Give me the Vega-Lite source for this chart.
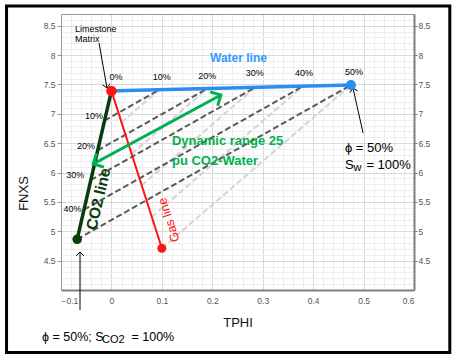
{
  "$schema": "https://vega.github.io/schema/vega-lite/v6.json",
  "width": 353,
  "height": 276,
  "autosize": {"type": "none"},
  "padding": {"left": 61, "top": 14, "right": 43, "bottom": 68},
  "background": "white",
  "config": {"view": {"stroke": null}, "font": "Liberation Sans", "axis": {"labelFont": "Liberation Sans", "titleFont": "Liberation Sans"}},
  "resolve": {"axis": {"x": "independent", "y": "independent"}, "scale": {"color": "independent", "shape": "independent", "size": "independent"}},
  "encoding": {
    "x": {"field": "x", "type": "quantitative", "scale": {"domain": [-0.1, 0.6], "nice": false, "zero": false}, "axis": null},
    "y": {"field": "y", "type": "quantitative", "scale": {"domain": [4, 8.7], "nice": false, "zero": false}, "axis": null}
  },
  "layer": [
    {
      "data": {"values": [
        {"x": 0.02, "y": 6.854, "x2": 0.095, "y2": 7.41},
        {"x": 0.04, "y": 6.318, "x2": 0.19, "y2": 7.43},
        {"x": 0.06, "y": 5.782, "x2": 0.285, "y2": 7.45},
        {"x": 0.08, "y": 5.246, "x2": 0.38, "y2": 7.47},
        {"x": 0.1, "y": 4.71, "x2": 0.475, "y2": 7.49}
      ]},
      "mark": {"type": "rule", "stroke": "#d4d4d4", "strokeWidth": 2, "strokeDash": [6, 3]},
      "encoding": {
        "x": {"field": "x", "type": "quantitative", "scale": {"domain": [-0.1, 0.6], "nice": false, "zero": false},
          "axis": {"orient": "top", "values": [-0.1,-0.08,-0.06,-0.04,-0.02,0,0.02,0.04,0.06,0.08,0.1,0.12,0.14,0.16,0.18,0.2,0.22,0.24,0.26,0.28,0.3,0.32,0.34,0.36,0.38,0.4,0.42,0.44,0.46,0.48,0.5,0.52,0.54,0.56,0.58,0.6],
            "grid": true, "gridColor": "#eeeeee", "gridWidth": 1, "labels": false, "ticks": false, "domain": true, "domainColor": "#9a9a9a", "domainWidth": 1, "title": null}},
        "y": {"field": "y", "type": "quantitative", "scale": {"domain": [4, 8.7], "nice": false, "zero": false},
          "axis": {"orient": "left", "values": [4,4.1,4.2,4.3,4.4,4.5,4.6,4.7,4.8,4.9,5,5.1,5.2,5.3,5.4,5.5,5.6,5.7,5.8,5.9,6,6.1,6.2,6.3,6.4,6.5,6.6,6.7,6.8,6.9,7,7.1,7.2,7.3,7.4,7.5,7.6,7.7,7.8,7.9,8,8.1,8.2,8.3,8.4,8.5,8.6,8.7],
            "grid": true, "gridColor": "#eeeeee", "gridWidth": 1, "labels": false, "ticks": false, "domain": false, "title": null}},
        "x2": {"field": "x2"},
        "y2": {"field": "y2"}
      }
    },
    {
      "data": {"values": [
        {"x": -0.0136, "y": 6.885, "x2": 0.095, "y2": 7.41},
        {"x": -0.0272, "y": 6.379, "x2": 0.19, "y2": 7.43},
        {"x": -0.0408, "y": 5.874, "x2": 0.285, "y2": 7.45},
        {"x": -0.0544, "y": 5.368, "x2": 0.38, "y2": 7.47},
        {"x": -0.068, "y": 4.863, "x2": 0.475, "y2": 7.49}
      ]},
      "mark": {"type": "rule", "stroke": "#5a5a5a", "strokeWidth": 2, "strokeDash": [6, 3]},
      "encoding": {
        "x": {"field": "x", "type": "quantitative", "scale": {"domain": [-0.1, 0.6], "nice": false, "zero": false},
          "axis": {"orient": "bottom", "values": [-0.1,0,0.1,0.2,0.3,0.4,0.5,0.6], "format": ".1~f",
            "grid": true, "gridColor": "#d9d9d9", "gridWidth": 1, "labelFontSize": 8.5, "labelColor": "#555555", "labelPadding": 6, "ticks": false,
            "domain": true, "domainColor": "#7f7f7f", "domainWidth": 2,
            "title": "TPHI", "titleFontSize": 13, "titleFontWeight": "normal", "titleColor": "#111111", "titleY": 32, "titleBaseline": "middle"}},
        "y": {"field": "y", "type": "quantitative", "scale": {"domain": [4, 8.7], "nice": false, "zero": false},
          "axis": {"orient": "left", "values": [4.5,5,5.5,6,6.5,7,7.5,8,8.5], "format": ".1~f",
            "grid": true, "gridColor": "#d9d9d9", "gridWidth": 1, "labelFontSize": 8.5, "labelColor": "#555555", "labelPadding": 2,
            "ticks": true, "tickSize": 4, "tickColor": "#9a9a9a",
            "domain": true, "domainColor": "#9a9a9a", "domainWidth": 1,
            "title": "FNXS", "titleFontSize": 13, "titleFontWeight": "normal", "titleColor": "#111111", "titleX": -38, "titleY": 179, "titleBaseline": "middle"}},
        "x2": {"field": "x2"},
        "y2": {"field": "y2"}
      }
    },
    {
      "data": {"values": [{"x": 0, "y": 7.39, "x2": -0.068, "y2": 4.863}]},
      "mark": {"type": "rule", "stroke": "#0b3b0b", "strokeWidth": 3.5},
      "encoding": {
        "y": {"field": "y", "type": "quantitative", "scale": {"domain": [4, 8.7], "nice": false, "zero": false},
          "axis": {"orient": "right", "values": [4.5,5,5.5,6,6.5,7,7.5,8,8.5], "format": ".1~f",
            "grid": false, "labelFontSize": 8.5, "labelColor": "#555555", "labelPadding": 1,
            "ticks": true, "tickSize": 3, "tickColor": "#7f7f7f",
            "domain": true, "domainColor": "#7f7f7f", "domainWidth": 2, "title": null}},
        "x2": {"field": "x2"},
        "y2": {"field": "y2"}
      }
    },
    {
      "data": {"values": [{"x": 0, "y": 7.39, "x2": 0.1, "y2": 4.71}]},
      "mark": {"type": "rule", "stroke": "#ff1414", "strokeWidth": 2},
      "encoding": {"x2": {"field": "x2"}, "y2": {"field": "y2"}}
    },
    {
      "data": {"values": [{"x": -0.008, "y": 7.39, "x2": 0.475, "y2": 7.49}]},
      "mark": {"type": "rule", "stroke": "#2a8df0", "strokeWidth": 3.5},
      "encoding": {"x2": {"field": "x2"}, "y2": {"field": "y2"}}
    },
    {
      "data": {"values": [{"x": -0.036, "y": 6.146, "x2": 0.217, "y2": 7.32}]},
      "mark": {"type": "rule", "stroke": "#00b050", "strokeWidth": 3},
      "encoding": {"x2": {"field": "x2"}, "y2": {"field": "y2"}}
    },
    {
      "data": {"values": [
        {"x": -0.0246, "y": 8.206, "x2": -0.0088, "y2": 7.44},
        {"x": 0.499, "y": 6.673, "x2": 0.479, "y2": 7.44},
        {"x": -0.0623, "y": 3.659, "x2": -0.0623, "y2": 4.647}
      ]},
      "mark": {"type": "rule", "stroke": "#000000", "strokeWidth": 1},
      "encoding": {"x2": {"field": "x2"}, "y2": {"field": "y2"}}
    },
    {
      "data": {"values": [
        {"id": "up", "x": 0.217, "y": 7.32},
        {"id": "down", "x": -0.036, "y": 6.146}
      ]},
      "mark": {"type": "point", "filled": false, "opacity": 1, "color": "#00b050", "strokeWidth": 3, "size": 250},
      "encoding": {
        "shape": {"field": "id", "type": "nominal", "legend": null,
          "scale": {"domain": ["up", "down"], "range": ["M-1.355,-0.404L0,0L-0.404,1.355", "M1.355,0.404L0,0L0.404,-1.355"]}}
      }
    },
    {
      "data": {"values": [
        {"id": "lime", "x": -0.0088, "y": 7.44},
        {"id": "water", "x": 0.479, "y": 7.44},
        {"id": "co2", "x": -0.0623, "y": 4.647}
      ]},
      "mark": {"type": "point", "filled": false, "opacity": 1, "color": "#000000", "strokeWidth": 1, "size": 60},
      "encoding": {
        "shape": {"field": "id", "type": "nominal", "legend": null,
          "scale": {"domain": ["lime", "water", "co2"], "range": ["M0.811,-1.158L0,0L-1.158,-0.811", "M-0.76,1.193L0,0L1.193,0.76", "M-1,1L0,0L1,1"]}}
      }
    },
    {
      "data": {"values": [
        {"name": "matrix", "x": 0, "y": 7.39},
        {"name": "water", "x": 0.475, "y": 7.49},
        {"name": "co2", "x": -0.068, "y": 4.863},
        {"name": "gas", "x": 0.1, "y": 4.71}
      ]},
      "mark": {"type": "point", "filled": true, "opacity": 1, "shape": "circle"},
      "encoding": {
        "color": {"field": "name", "type": "nominal", "legend": null,
          "scale": {"domain": ["matrix", "water", "co2", "gas"], "range": ["#ff1414", "#2a8df0", "#0b3b0b", "#ff1414"]}},
        "size": {"field": "name", "type": "ordinal", "legend": null,
          "scale": {"type": "point", "domain": ["matrix", "water", "co2", "gas"], "range": [110, 80]}}
      }
    },
    {
      "data": {"values": [
        {"t": "0%", "x": 0.009, "y": 7.62},
        {"t": "10%", "x": 0.1, "y": 7.62},
        {"t": "20%", "x": 0.19, "y": 7.64},
        {"t": "30%", "x": 0.284, "y": 7.69},
        {"t": "40%", "x": 0.382, "y": 7.69},
        {"t": "50%", "x": 0.481, "y": 7.71},
        {"t": "10%", "x": -0.0346, "y": 6.963},
        {"t": "20%", "x": -0.0504, "y": 6.452},
        {"t": "30%", "x": -0.0716, "y": 5.958},
        {"t": "40%", "x": -0.0772, "y": 5.379}
      ]},
      "mark": {"type": "text", "font": "Liberation Sans", "fontSize": 9, "color": "#000000", "align": "center", "baseline": "middle"},
      "encoding": {"text": {"field": "t"}}
    },
    {
      "data": {"values": [{"t": "Limestone\nMatrix", "x": -0.0722, "y": 8.388}]},
      "mark": {"type": "text", "font": "Liberation Sans", "fontSize": 9, "color": "#000000", "align": "left", "baseline": "alphabetic", "lineBreak": "\n", "lineHeight": 10},
      "encoding": {"text": {"field": "t"}}
    },
    {
      "data": {"values": [{"t": "Water line", "x": 0.1955, "y": 7.888}]},
      "mark": {"type": "text", "font": "Liberation Sans", "fontSize": 12, "fontWeight": "bold", "color": "#3399ff", "align": "left", "baseline": "alphabetic"},
      "encoding": {"text": {"field": "t"}}
    },
    {
      "data": {"values": [{"t": "Dynamic range 25\npu CO2-Water", "x": 0.12, "y": 6.469}]},
      "mark": {"type": "text", "font": "Liberation Sans", "fontSize": 13, "fontWeight": "bold", "color": "#00b050", "align": "left", "baseline": "alphabetic", "lineBreak": "\n", "lineHeight": 19.5},
      "encoding": {"text": {"field": "t"}}
    },
    {
      "data": {"values": [{"t": "CO2 line", "x": -0.0256, "y": 5.549}]},
      "mark": {"type": "text", "font": "Liberation Sans", "fontSize": 15.5, "fontWeight": "bold", "color": "#0b3b0b", "align": "center", "baseline": "middle", "angle": 283},
      "encoding": {"text": {"field": "t"}}
    },
    {
      "data": {"values": [{"t": "Gas line", "x": 0.114, "y": 5.192}]},
      "mark": {"type": "text", "font": "Liberation Sans", "fontSize": 12.5, "color": "#ff1414", "align": "center", "baseline": "middle", "angle": 252},
      "encoding": {"text": {"field": "t"}}
    },
    {
      "data": {"values": [
        {"a": "ϕ = 50%", "x": 0.463, "y": 6.355}
      ]},
      "mark": {"type": "text", "font": "Liberation Sans", "fontSize": 13, "color": "#000000", "align": "left", "baseline": "alphabetic"},
      "encoding": {"text": {"field": "a"}}
    },
    {
      "data": {"values": [{"a": "S", "b": "w", "c": "= 100%", "x": 0.463, "y": 6.055}]},
      "layer": [
        {"mark": {"type": "text", "font": "Liberation Sans", "fontSize": 13, "color": "#000000", "align": "left", "baseline": "alphabetic"}, "encoding": {"text": {"field": "a"}}},
        {"mark": {"type": "text", "font": "Liberation Sans", "fontSize": 11, "color": "#000000", "align": "left", "baseline": "alphabetic", "dx": 8.7, "dy": 2}, "encoding": {"text": {"field": "b"}}},
        {"mark": {"type": "text", "font": "Liberation Sans", "fontSize": 13, "color": "#000000", "align": "left", "baseline": "alphabetic", "dx": 21.5}, "encoding": {"text": {"field": "c"}}}
      ]
    },
    {
      "data": {"values": [{"a": "ϕ = 50%; S", "b": "CO2", "c": "= 100%", "x": -0.1377, "y": 3.136}]},
      "layer": [
        {"mark": {"type": "text", "font": "Liberation Sans", "fontSize": 12.5, "color": "#000000", "align": "left", "baseline": "alphabetic"}, "encoding": {"text": {"field": "a"}}},
        {"mark": {"type": "text", "font": "Liberation Sans", "fontSize": 11, "color": "#000000", "align": "left", "baseline": "alphabetic", "dx": 60, "dy": 2.5}, "encoding": {"text": {"field": "b"}}},
        {"mark": {"type": "text", "font": "Liberation Sans", "fontSize": 12.5, "color": "#000000", "align": "left", "baseline": "alphabetic", "dx": 89.5}, "encoding": {"text": {"field": "c"}}}
      ]
    },
    {
      "data": {"values": [{"x": -0.208, "x2": 0.671, "y": 2.936, "y2": 8.836}]},
      "mark": {"type": "rect", "filled": false, "stroke": "#000000", "strokeWidth": 3},
      "encoding": {"x2": {"field": "x2"}, "y2": {"field": "y2"}}
    }
  ]
}
